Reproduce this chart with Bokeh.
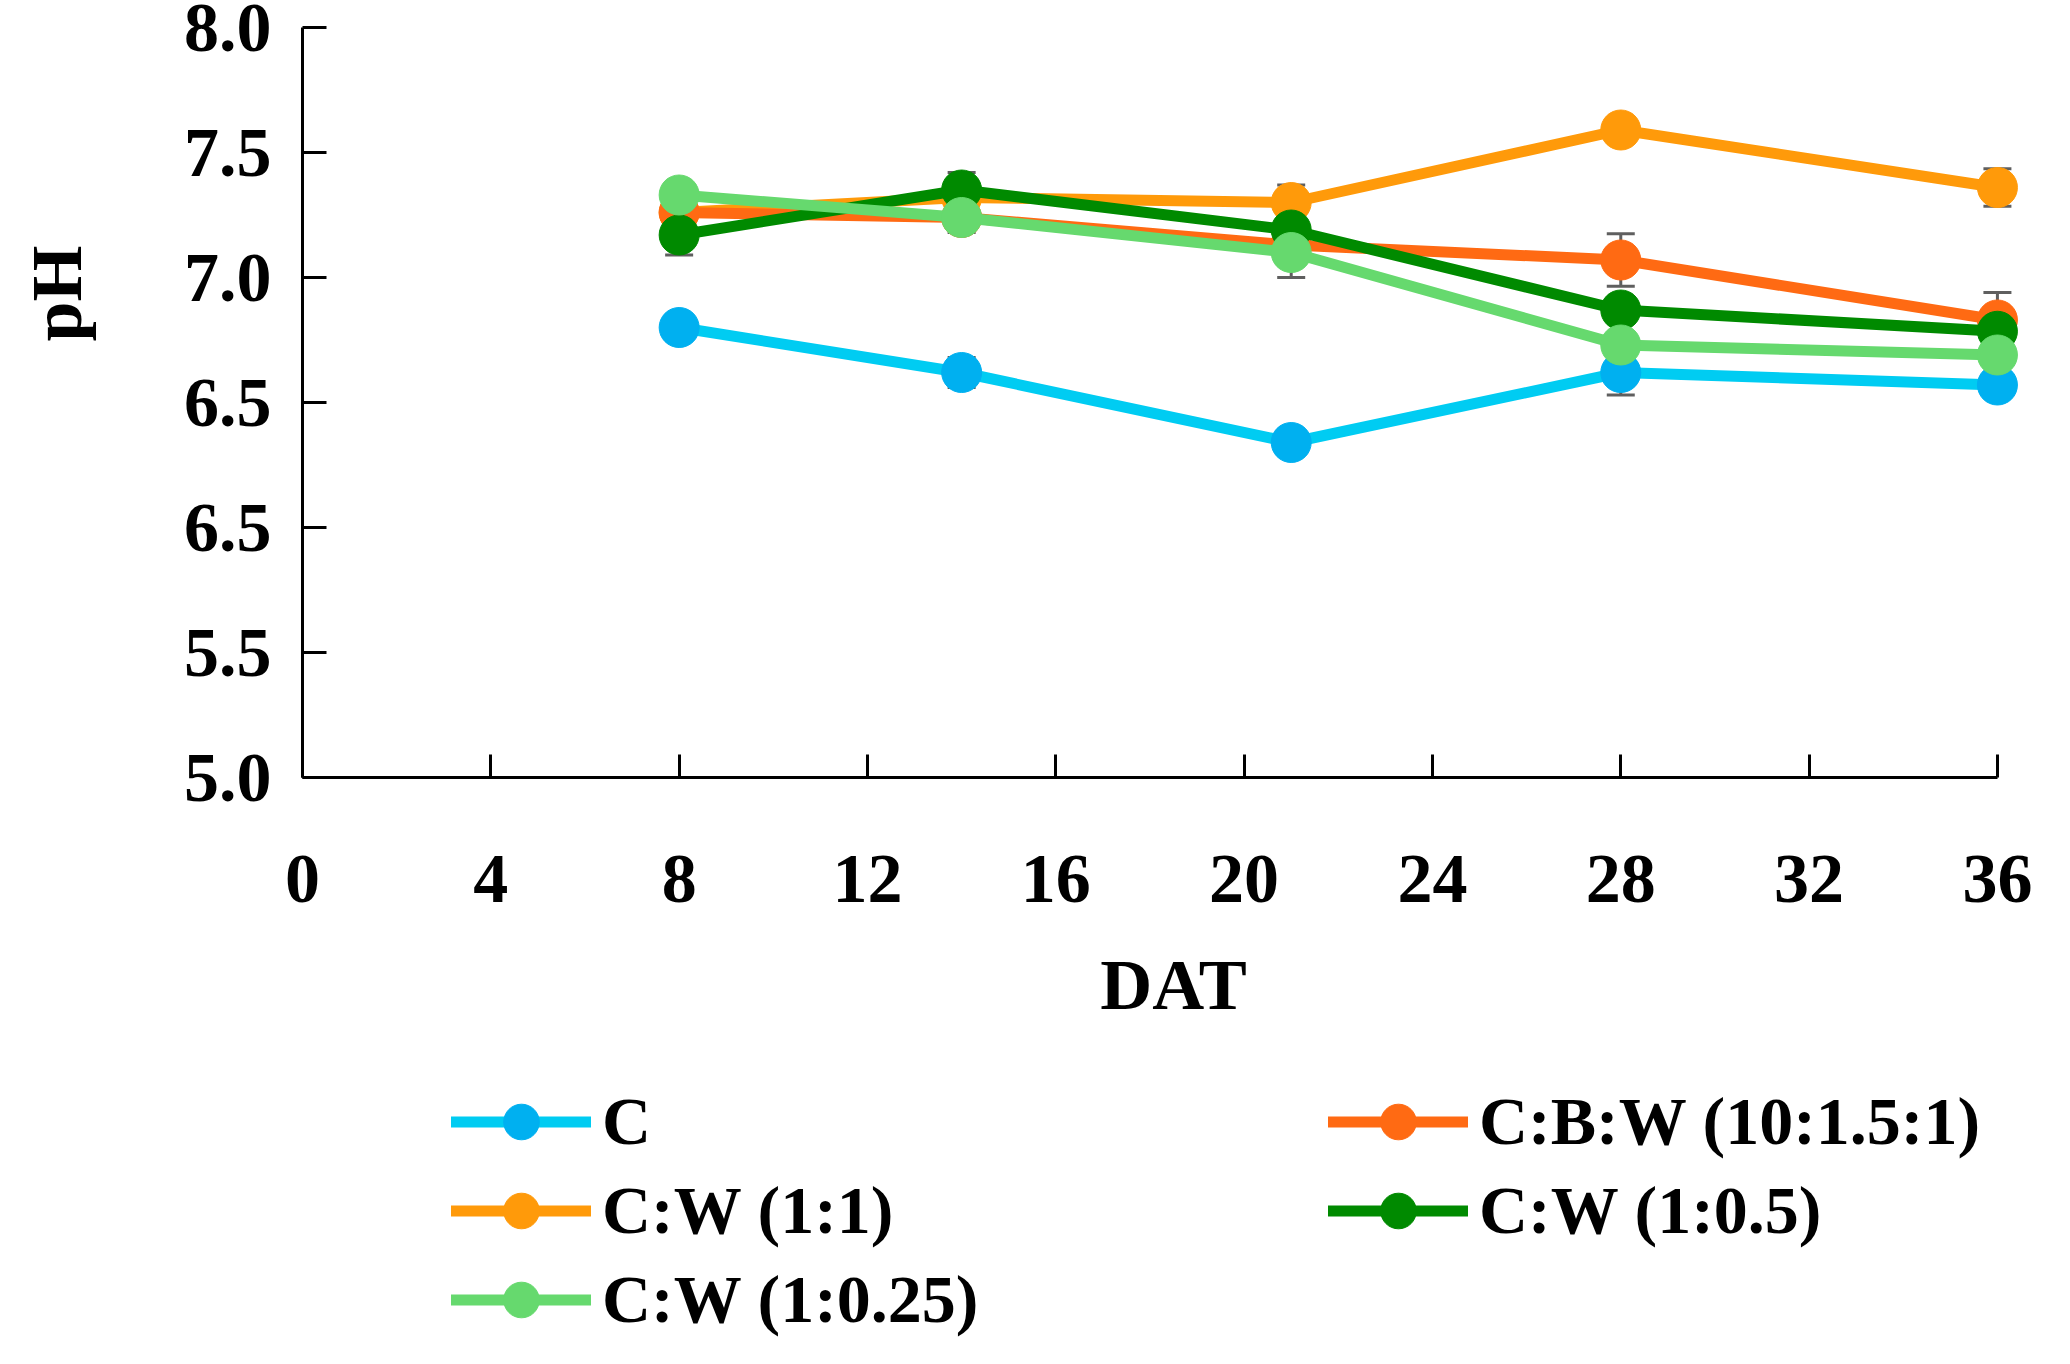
from bokeh.plotting import figure
from bokeh.layouts import column
from bokeh.models import (Range1d, FixedTicker, Legend, LegendItem, Title,
                          ColumnDataSource, Whisker, TeeHead)
from bokeh.embed import file_html
from bokeh.resources import INLINE

# data
days = [8, 14, 21, 28, 36]
series_names = ["C", "C:W (1:1)", "C:B:W (10:1.5:1)", "C:W (1:0.5)", "C:W (1:0.25)"]
legend_col1 = ["C", "C:W (1:1)", "C:W (1:0.25)"]
legend_col2 = ["C:B:W (10:1.5:1)", "C:W (1:0.5)"]
ph_c = [6.80, 6.62, 6.34, 6.62, 6.57]
ph_cw11 = [7.26, 7.32, 7.30, 7.59, 7.36]
ph_cbw = [7.26, 7.24, 7.13, 7.07, 6.83]
ph_cw105 = [7.17, 7.35, 7.19, 6.87, 6.785]
ph_cw1025 = [7.33, 7.24, 7.10, 6.73, 6.69]

err_c = [0.03, 0.06, 0.03, 0.09, 0.03]
err_cw11 = [0.03, 0.04, 0.07, 0.03, 0.075]
err_cbw = [0.04, 0.04, 0.04, 0.105, 0.11]
err_cw105 = [0.08, 0.07, 0.04, 0.04, 0.04]
err_cw1025 = [0.04, 0.06, 0.10, 0.04, 0.04]

x_ticks = [0, 4, 8, 12, 16, 20, 24, 28, 32, 36]
y_ticks = [5.0, 5.5, 6.0, 6.5, 7.0, 7.5, 8.0]
y_tick_labels = ["5.0", "5.5", "6.5", "6.5", "7.0", "7.5", "8.0"]

line_colors = ["#00CCF2", "#FF9A0A", "#FF6A13", "#008A00", "#66D96E"]
marker_colors = ["#00B0F0", "#FF9A0A", "#FF6A13", "#008A00", "#66D96E"]

FONT = "Liberation Serif"

p = figure(frame_width=1742, frame_height=750, output_backend="svg",
           toolbar_location=None,
           x_range=Range1d(0, 37), y_range=Range1d(5, 8),
           min_border_left=302, min_border_right=10,
           min_border_top=27, min_border_bottom=290)
p.grid.visible = False
p.outline_line_color = None

for ax in (p.xaxis[0], p.yaxis[0]):
    ax.axis_line_width = 3
    ax.axis_line_color = "black"
    ax.major_tick_line_width = 3
    ax.major_tick_out = 0
    ax.minor_tick_line_color = None
    ax.major_label_text_font = FONT
    ax.major_label_text_font_style = "bold"
    ax.major_label_text_font_size = "70px"
    ax.major_label_text_color = "black"

p.xaxis.ticker = FixedTicker(ticks=x_ticks)
p.xaxis.bounds = (0, 36)
p.xaxis.major_tick_in = 23
p.xaxis.major_label_standoff = 78
p.xaxis.axis_label = "DAT"
p.xaxis.axis_label_standoff = 40
p.xaxis.axis_label_text_font = FONT
p.xaxis.axis_label_text_font_style = "bold"
p.xaxis.axis_label_text_font_size = "72px"
p.xaxis.axis_label_text_color = "black"

p.yaxis.ticker = FixedTicker(ticks=y_ticks)
p.yaxis.major_tick_in = 24
p.yaxis.major_label_standoff = 31
p.yaxis.major_label_text_baseline = "hanging"
# blank axis label only widens the axis panel, pushing the "pH" title outwards
p.yaxis.axis_label = " "
p.yaxis.axis_label_text_font_size = "1px"
p.yaxis.axis_label_standoff = 70
overrides = {}
for t, lab in zip(y_ticks, y_tick_labels):
    overrides[t] = lab
    overrides[str(t)] = lab
    if float(t).is_integer():
        overrides[str(int(t))] = lab
p.yaxis.major_label_overrides = overrides

ylab = Title(text="pH", align="right", offset=218, standoff=20,
             text_font=FONT, text_font_style="bold", text_font_size="72px",
             text_color="black")
p.add_layout(ylab, "left")

values = [ph_c, ph_cw11, ph_cbw, ph_cw105, ph_cw1025]
errors = [err_c, err_cw11, err_cbw, err_cw105, err_cw1025]

# error bars first, beneath the lines
for vals, errs in zip(values, errors):
    src = ColumnDataSource(dict(x=days,
                                upper=[v + e for v, e in zip(vals, errs)],
                                lower=[v - e for v, e in zip(vals, errs)]))
    w = Whisker(base="x", upper="upper", lower="lower", source=src,
                line_color="#5f5f5f", line_width=3,
                upper_head=TeeHead(size=28, line_color="#5f5f5f", line_width=3),
                lower_head=TeeHead(size=28, line_color="#5f5f5f", line_width=3))
    p.add_layout(w)

for name, vals, lc, mc in zip(series_names, values, line_colors, marker_colors):
    p.line(days, vals, line_color=lc, line_width=11, line_cap="round",
           line_join="round")
    p.scatter(days, vals, size=40, marker="circle", fill_color=mc, line_color=mc)

# legend strip under the chart (its own figure, so the legend is not clipped)
lg = figure(width=2054, height=281, output_backend="svg", toolbar_location=None,
            x_range=Range1d(100, 101), y_range=Range1d(100, 101),
            x_axis_location=None, y_axis_location=None,
            min_border_left=0, min_border_right=0, min_border_top=0,
            min_border_bottom=0)
lg.grid.visible = False
lg.outline_line_color = None

items = {}
for name, vals, lc, mc in zip(series_names, values, line_colors, marker_colors):
    ln = lg.line(days, vals, line_color=lc, line_width=11, line_cap="round")
    sc = lg.scatter(days, vals, size=40, marker="circle", fill_color=mc, line_color=mc)
    items[name] = LegendItem(label=name, renderers=[ln, sc])

legend_style = dict(orientation="vertical", glyph_width=140, glyph_height=89,
                    label_height=89, spacing=0, padding=0, margin=0,
                    label_standoff=11, border_line_alpha=0,
                    background_fill_alpha=0, label_text_font=FONT,
                    label_text_font_style="bold", label_text_font_size="68px",
                    label_text_color="black")
lg.add_layout(Legend(items=[items[n] for n in legend_col1], location=(149, 4),
                     **legend_style))
lg.add_layout(Legend(items=[items[n] for n in legend_col2], location=(1026, 93),
                     **legend_style))

page = column(p, lg, spacing=0)
open("out.html", "w").write(file_html(page, INLINE))
